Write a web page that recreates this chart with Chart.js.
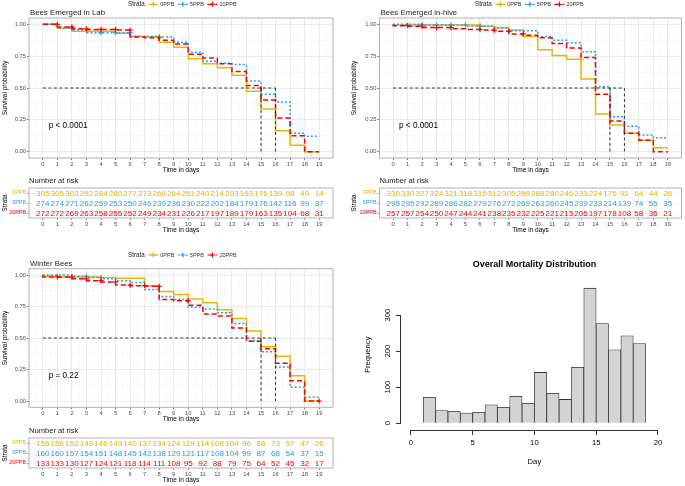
<!DOCTYPE html>
<html>
<head>
<meta charset="utf-8">
<script src="https://cdn.jsdelivr.net/npm/chart.js@4.4.0/dist/chart.umd.min.js"></script>
<style>
  html, body { margin: 0; padding: 0; background: #fff; }
  #page { position: relative; width: 685px; height: 486px; overflow: hidden; }
  canvas { position: absolute; }
</style>
</head>
<body>
<div id="page">
  <canvas id="labSurv" width="345" height="176" style="left:0;top:0;width:345px;height:176px"></canvas>
  <canvas id="labRisk" width="345" height="60" style="left:0;top:176px;width:345px;height:60px"></canvas>
  <canvas id="hiveSurv" width="340" height="176" style="left:345px;top:0;width:340px;height:176px"></canvas>
  <canvas id="hiveRisk" width="340" height="60" style="left:345px;top:176px;width:340px;height:60px"></canvas>
  <canvas id="winSurv" width="345" height="180" style="left:0;top:245px;width:345px;height:180px"></canvas>
  <canvas id="winRisk" width="345" height="60" style="left:0;top:426px;width:345px;height:60px"></canvas>
  <canvas id="hist" width="340" height="236" style="left:345px;top:250px;width:340px;height:236px"></canvas>
</div>
<script>
const FONT = "'Liberation Sans', Arial, Helvetica, sans-serif";
Chart.defaults.font.family = FONT;
Chart.defaults.animation = false;

// ---- data ----
const days = [0, 1, 2, 3, 4, 5, 6, 7, 8, 9, 10, 11, 12, 13, 14, 15, 16, 17, 18, 19];
const survTicks = [0, 0.25, 0.5, 0.75, 1];
const strata = ['0PPB', '5PPB', '20PPB'];
const strataColors = ['#E7B800', '#2E9FDF', '#FF0000'];
const strataDash = [[], [2, 2], [5, 3]];

// Bees emerged in lab (survival probability over [day, day+1))
const lab0PPB  = [1.00, 1.00, 0.97, 0.945, 0.945, 0.945, 0.93, 0.905, 0.905, 0.86, 0.82, 0.73, 0.69, 0.66, 0.60, 0.475, 0.335, 0.165, 0.05, 0.00];
const lab5PPB  = [1.00, 1.00, 0.97, 0.955, 0.935, 0.935, 0.935, 0.905, 0.905, 0.90, 0.86, 0.78, 0.71, 0.695, 0.685, 0.555, 0.45, 0.39, 0.145, 0.12];
const lab20PPB = [1.00, 1.00, 0.98, 0.965, 0.96, 0.96, 0.955, 0.90, 0.895, 0.875, 0.845, 0.765, 0.735, 0.69, 0.63, 0.52, 0.405, 0.265, 0.125, 0.00];
const labCensor = [[3, 8], [2, 4, 5, 6], [1, 2, 3, 4, 5, 6, 8]];
const labMedians = [15, 16, 16];
const labRisk0PPB  = [305, 305, 302, 292, 284, 280, 277, 273, 268, 264, 251, 240, 214, 203, 193, 176, 139, 98, 49, 14];
const labRisk5PPB  = [274, 274, 271, 262, 259, 253, 250, 246, 239, 236, 230, 222, 202, 184, 179, 176, 142, 116, 99, 37];
const labRisk20PPB = [272, 272, 269, 263, 258, 255, 252, 249, 234, 231, 226, 217, 197, 189, 179, 163, 135, 104, 68, 31];

// Bees emerged in-hive
const hive0PPB  = [1.00, 0.995, 0.995, 0.995, 0.995, 0.995, 0.995, 0.985, 0.975, 0.955, 0.905, 0.80, 0.755, 0.725, 0.57, 0.295, 0.21, 0.145, 0.09, 0.03];
const hive5PPB  = [1.00, 1.00, 1.00, 0.995, 0.995, 0.995, 0.985, 0.985, 0.97, 0.95, 0.95, 0.905, 0.875, 0.855, 0.785, 0.51, 0.275, 0.20, 0.13, 0.11];
const hive20PPB = [1.00, 0.99, 0.985, 0.975, 0.975, 0.965, 0.96, 0.955, 0.945, 0.925, 0.915, 0.895, 0.85, 0.815, 0.74, 0.45, 0.24, 0.145, 0.09, 0.00];
const hiveCensor = [[5, 6, 13], [2, 3, 4, 5, 6], [1, 2, 3, 4, 6, 7, 8, 9]];
const hiveMedians = [15, 16, 15];
const hiveRisk0PPB  = [330, 330, 327, 324, 321, 318, 315, 312, 305, 299, 288, 280, 246, 233, 224, 176, 91, 64, 44, 26];
const hiveRisk5PPB  = [295, 295, 292, 289, 286, 282, 279, 276, 272, 269, 263, 260, 245, 239, 233, 214, 139, 74, 55, 35];
const hiveRisk20PPB = [257, 257, 254, 250, 247, 244, 241, 238, 235, 232, 225, 221, 215, 205, 197, 178, 108, 58, 35, 21];

// Winter bees
const win0PPB  = [1.00, 0.99, 0.985, 0.985, 0.985, 0.98, 0.975, 0.975, 0.915, 0.87, 0.845, 0.81, 0.78, 0.725, 0.655, 0.555, 0.43, 0.355, 0.20, 0.00];
const win5PPB  = [1.00, 1.00, 1.00, 0.99, 0.98, 0.97, 0.955, 0.94, 0.885, 0.83, 0.805, 0.745, 0.73, 0.70, 0.615, 0.48, 0.39, 0.27, 0.11, 0.03];
const win20PPB = [1.00, 0.985, 0.985, 0.97, 0.955, 0.945, 0.92, 0.915, 0.91, 0.805, 0.795, 0.76, 0.69, 0.675, 0.58, 0.475, 0.415, 0.30, 0.16, 0.00];
const winCensor = [[], [3, 4], [1, 2, 3, 4, 5, 6, 7, 8, 10, 19]];
const winMedians = [16, 15, 15];
const winRisk0PPB  = [156, 156, 152, 149, 146, 143, 140, 137, 134, 124, 119, 114, 108, 104, 96, 86, 73, 57, 47, 26];
const winRisk5PPB  = [160, 160, 157, 154, 151, 148, 145, 142, 138, 129, 121, 117, 108, 104, 99, 87, 68, 54, 37, 15];
const winRisk20PPB = [133, 133, 130, 127, 124, 121, 118, 114, 111, 108, 95, 92, 88, 79, 75, 64, 52, 45, 32, 17];

// Overall mortality histogram
const histBreaks = [1, 2, 3, 4, 5, 6, 7, 8, 9, 10, 11, 12, 13, 14, 15, 16, 17, 18, 19];
const histCounts = [72, 35, 33, 28, 30, 51, 44, 75, 55, 141, 83, 66, 155, 375, 277, 204, 243, 221];
const histXTicks = [0, 5, 10, 15, 20];
const histYTicks = [0, 100, 200, 300];

// ---- helpers ----
const isInt = v => Math.abs(v - Math.round(v)) < 1e-9;
const isSurvMajor = v => survTicks.some(t => Math.abs(t - v) < 1e-9);
const dayGrid = days.flatMap(d => [d - 0.5, d]).concat([days[days.length - 1] + 0.5]);
const survGrid = survTicks.flatMap((t, i) => i ? [(t + survTicks[i - 1]) / 2, t] : [t]);

const survDecor = {
  id: 'survDecor',
  afterDraw(chart, args, o) {
    const { ctx, chartArea: a, scales } = chart;
    ctx.save();
    ctx.strokeStyle = '#b3b3b3';
    ctx.lineWidth = 1;
    ctx.strokeRect(a.left, a.top, a.right - a.left, a.bottom - a.top);
    ctx.textAlign = 'left';
    ctx.textBaseline = 'middle';
    // title
    ctx.fillStyle = '#1a1a1a';
    ctx.font = `7.8px ${FONT}`;
    ctx.fillText(o.title, a.left + 1, a.top - 4.7);
    // p-value
    ctx.fillStyle = '#000';
    ctx.font = `8.2px ${FONT}`;
    ctx.fillText(o.pText, scales.x.getPixelForValue(0.4), scales.y.getPixelForValue(0.2));
    // legend
    let x = o.legendX;
    const y = a.top - 13.7;
    ctx.font = `6.3px ${FONT}`;
    ctx.fillStyle = '#1a1a1a';
    ctx.fillText('Strata', x, y);
    x += ctx.measureText('Strata').width + 3.5;
    strata.forEach((s, i) => {
      ctx.strokeStyle = strataColors[i];
      ctx.lineWidth = 1.2;
      ctx.setLineDash(strataDash[i]);
      ctx.beginPath(); ctx.moveTo(x, y); ctx.lineTo(x + 10, y); ctx.stroke();
      ctx.setLineDash([]);
      ctx.beginPath();
      ctx.moveTo(x + 5, y - 2.5); ctx.lineTo(x + 5, y + 2.5);
      ctx.moveTo(x + 2.5, y); ctx.lineTo(x + 7.5, y);
      ctx.stroke();
      x += 12;
      ctx.font = `5.5px ${FONT}`;
      ctx.fillStyle = '#333';
      ctx.fillText(s, x, y);
      x += ctx.measureText(s).width + 3.5;
    });
    ctx.restore();
  }
};

function buildSurvival(id, cfg) {
  const el = document.getElementById(id);
  const W = el.width, H = el.height, a = cfg.area;
  const datasets = cfg.curves.map((curve, i) => ({
    data: days.map((d, k) => ({ x: d, y: curve[k] })),
    stepped: 'after',
    borderColor: strataColors[i],
    borderDash: strataDash[i],
    borderWidth: 1.5,
    pointStyle: 'cross',
    pointRadius: days.map(d => cfg.censor[i].includes(d) ? 2.6 : 0),
    pointBorderColor: strataColors[i],
    pointBorderWidth: 1.2,
    fill: false,
    order: 3 - i
  }));
  const medLine = { borderColor: '#333', borderDash: [3, 2.5], borderWidth: 1, pointRadius: 0, fill: false, order: 0 };
  datasets.push({ ...medLine, data: [{ x: 0, y: 0.5 }, { x: Math.max(...cfg.medians), y: 0.5 }] });
  [...new Set(cfg.medians)].forEach(m => {
    datasets.push({ ...medLine, data: [{ x: m, y: 0.5 }, { x: m, y: 0 }] });
  });

  return new Chart(el, {
    type: 'line',
    data: { datasets },
    options: {
      responsive: false,
      animation: false,
      layout: { padding: { left: 0, top: a.top, right: W - a.right, bottom: 0 } },
      plugins: {
        legend: { display: false },
        tooltip: { enabled: false },
        survDecor: { title: cfg.title, pText: cfg.pText, legendX: cfg.legendX }
      },
      scales: {
        x: {
          type: 'linear', min: -0.95, max: 19.95,
          afterBuildTicks: s => { s.ticks = dayGrid.map(v => ({ value: v })); },
          afterFit: s => { s.height = H - a.bottom; },
          border: { display: false },
          grid: {
            color: c => (c.tick && isInt(c.tick.value)) ? '#e4e4e4' : '#f2f2f2',
            lineWidth: c => (c.tick && isInt(c.tick.value)) ? 0.8 : 0.5,
            tickLength: 2,
            tickColor: c => (c.tick && isInt(c.tick.value)) ? '#555' : 'rgba(0,0,0,0)'
          },
          ticks: {
            autoSkip: false, maxRotation: 0, minRotation: 0, padding: 1,
            color: '#4d4d4d', font: { size: 5.8 },
            callback: v => isInt(v) ? String(v) : ''
          },
          title: { display: true, text: 'Time in days', color: '#000', font: { size: 6.5 }, padding: { top: 0, bottom: 2 } }
        },
        y: {
          min: -0.05, max: 1.05,
          afterBuildTicks: s => { s.ticks = survGrid.map(v => ({ value: v })); },
          afterFit: s => { s.width = a.left; },
          border: { display: false },
          grid: {
            color: c => (c.tick && isSurvMajor(c.tick.value)) ? '#e4e4e4' : '#f2f2f2',
            lineWidth: c => (c.tick && isSurvMajor(c.tick.value)) ? 0.8 : 0.5,
            tickLength: 2,
            tickColor: c => (c.tick && isSurvMajor(c.tick.value)) ? '#555' : 'rgba(0,0,0,0)'
          },
          ticks: {
            autoSkip: false, padding: 1, color: '#4d4d4d', font: { size: 5.8 },
            callback: v => isSurvMajor(v) ? v.toFixed(2) : ''
          },
          title: { display: true, text: 'Survival probability', color: '#000', font: { size: 6.5 }, padding: { top: cfg.yTitlePad, bottom: 0 } }
        }
      }
    },
    plugins: [survDecor]
  });
}

const riskDecor = {
  id: 'riskDecor',
  afterDatasetsDraw(chart) {
    const ctx = chart.ctx;
    ctx.save();
    ctx.font = `8.1px ${FONT}`;
    ctx.textAlign = 'center';
    ctx.textBaseline = 'middle';
    chart.data.datasets.forEach((ds, i) => {
      ctx.fillStyle = ds.textColor;
      chart.getDatasetMeta(i).data.forEach((pt, k) => {
        ctx.fillText(String(ds.riskValues[k]), pt.x, pt.y + 0.5);
      });
    });
    ctx.restore();
  },
  afterDraw(chart) {
    const { ctx, chartArea: a } = chart;
    ctx.save();
    ctx.strokeStyle = '#b3b3b3';
    ctx.lineWidth = 1;
    ctx.strokeRect(a.left, a.top, a.right - a.left, a.bottom - a.top);
    ctx.fillStyle = '#1a1a1a';
    ctx.font = `7.6px ${FONT}`;
    ctx.textAlign = 'left';
    ctx.textBaseline = 'middle';
    ctx.fillText('Number at risk', a.left, a.top - 7);
    ctx.restore();
  }
};

function buildRisk(id, cfg) {
  const el = document.getElementById(id);
  const W = el.width, H = el.height, a = cfg.area;
  return new Chart(el, {
    type: 'scatter',
    data: {
      datasets: cfg.risk.map((vals, i) => ({
        data: days.map(d => ({ x: d, y: strata[i] })),
        riskValues: vals,
        textColor: strataColors[i],
        pointRadius: 0
      }))
    },
    options: {
      responsive: false,
      animation: false,
      layout: { padding: { left: 0, top: a.top, right: W - a.right, bottom: 0 } },
      plugins: { legend: { display: false }, tooltip: { enabled: false } },
      scales: {
        x: {
          type: 'linear', min: -0.95, max: 19.95,
          afterBuildTicks: s => { s.ticks = days.map(v => ({ value: v })); },
          afterFit: s => { s.height = H - a.bottom; },
          border: { display: false },
          grid: { color: '#efefef', lineWidth: 0.6, tickLength: 2, tickColor: '#555' },
          ticks: { autoSkip: false, maxRotation: 0, minRotation: 0, padding: 1, color: '#4d4d4d', font: { size: 5.8 } },
          title: { display: true, text: 'Time in days', color: '#000', font: { size: 6.5 }, padding: { top: 0, bottom: 2 } }
        },
        y: {
          type: 'category', labels: strata, offset: true,
          afterFit: s => { s.width = a.left; },
          border: { display: false },
          grid: { offset: false, color: '#efefef', lineWidth: 0.6, tickLength: 2, tickColor: '#555' },
          ticks: { padding: 1, font: { size: 5.4 }, color: c => strataColors[c.index] },
          title: { display: true, text: 'Strata', color: '#000', font: { size: 6.5 }, padding: { top: cfg.yTitlePad, bottom: 0 } }
        }
      }
    },
    plugins: [riskDecor]
  });
}

// ---- survival panels ----
buildSurvival('labSurv', {
  title: 'Bees Emerged in Lab', pText: 'p < 0.0001', legendX: 128, yTitlePad: 1,
  curves: [lab0PPB, lab5PPB, lab20PPB], censor: labCensor, medians: labMedians,
  area: { left: 29, right: 333, top: 18, bottom: 158 }
});
buildRisk('labRisk', {
  risk: [labRisk0PPB, labRisk5PPB, labRisk20PPB], yTitlePad: 1,
  area: { left: 29, right: 333, top: 12, bottom: 42 }
});

buildSurvival('hiveSurv', {
  title: 'Bees Emerged in-hive', pText: 'p < 0.0001', legendX: 130, yTitlePad: 5.5,
  curves: [hive0PPB, hive5PPB, hive20PPB], censor: hiveCensor, medians: hiveMedians,
  area: { left: 34.5, right: 336.5, top: 18, bottom: 158 }
});
buildRisk('hiveRisk', {
  risk: [hiveRisk0PPB, hiveRisk5PPB, hiveRisk20PPB], yTitlePad: 5.5,
  area: { left: 34.5, right: 336.5, top: 12, bottom: 42 }
});

buildSurvival('winSurv', {
  title: 'Winter Bees', pText: 'p = 0.22', legendX: 128, yTitlePad: 1,
  curves: [win0PPB, win5PPB, win20PPB], censor: winCensor, medians: winMedians,
  area: { left: 29, right: 333, top: 23.7, bottom: 162.3 }
});
buildRisk('winRisk', {
  risk: [winRisk0PPB, winRisk5PPB, winRisk20PPB], yTitlePad: 1,
  area: { left: 29, right: 333, top: 12, bottom: 42 }
});

// ---- histogram ----
const histDecor = {
  id: 'histDecor',
  afterDraw(chart) {
    const { ctx, chartArea: a, scales: { x, y } } = chart;
    ctx.save();
    ctx.strokeStyle = '#333';
    ctx.lineWidth = 1;
    ctx.beginPath();
    ctx.moveTo(x.getPixelForValue(histXTicks[0]), a.bottom + 0.5);
    ctx.lineTo(x.getPixelForValue(histXTicks[histXTicks.length - 1]), a.bottom + 0.5);
    ctx.moveTo(a.left - 0.5, y.getPixelForValue(histYTicks[0]));
    ctx.lineTo(a.left - 0.5, y.getPixelForValue(histYTicks[histYTicks.length - 1]));
    ctx.stroke();
    ctx.fillStyle = '#000';
    ctx.font = `bold 9px ${FONT}`;
    ctx.textAlign = 'center';
    ctx.textBaseline = 'middle';
    ctx.fillText('Overall Mortality Distribution', (a.left + a.right) / 2, 15);
    ctx.restore();
  }
};

(function () {
  const el = document.getElementById('hist');
  const W = el.width, H = el.height;
  const a = { left: 56, right: 322.8, top: 29.2, bottom: 180 };
  new Chart(el, {
    type: 'bar',
    data: {
      datasets: [{
        data: histCounts.map((c, i) => ({ x: (histBreaks[i] + histBreaks[i + 1]) / 2, y: c })),
        backgroundColor: '#d3d3d3',
        borderColor: '#333',
        borderWidth: 0.8,
        barPercentage: 1,
        categoryPercentage: 1
      }]
    },
    options: {
      responsive: false,
      animation: false,
      layout: { padding: { left: 0, top: a.top, right: W - a.right, bottom: 0 } },
      plugins: { legend: { display: false }, tooltip: { enabled: false } },
      scales: {
        x: {
          type: 'linear', min: -0.8, max: 20.8, offset: false,
          afterBuildTicks: s => { s.ticks = histXTicks.map(v => ({ value: v })); },
          afterFit: s => { s.height = H - a.bottom; },
          border: { display: false },
          grid: { offset: false, drawOnChartArea: false, tickLength: 5, tickColor: '#333', lineWidth: 1 },
          ticks: { autoSkip: false, maxRotation: 0, minRotation: 0, padding: 3, color: '#000', font: { size: 7.7 } },
          title: { display: true, text: 'Day', color: '#000', font: { size: 7.7 }, padding: { top: 0, bottom: 19.5 } }
        },
        y: {
          min: -19, max: 400,
          afterBuildTicks: s => { s.ticks = histYTicks.map(v => ({ value: v })); },
          afterFit: s => { s.width = a.left; },
          border: { display: false },
          grid: { drawOnChartArea: false, tickLength: 5, tickColor: '#333', lineWidth: 1 },
          ticks: { autoSkip: false, minRotation: 90, maxRotation: 90, crossAlign: 'center', padding: 2, color: '#000', font: { size: 7.7 } },
          title: { display: true, text: 'Frequency', color: '#000', font: { size: 7.7 }, padding: { top: 18.5, bottom: 0 } }
        }
      }
    },
    plugins: [histDecor]
  });
})();
</script>
</body>
</html>
